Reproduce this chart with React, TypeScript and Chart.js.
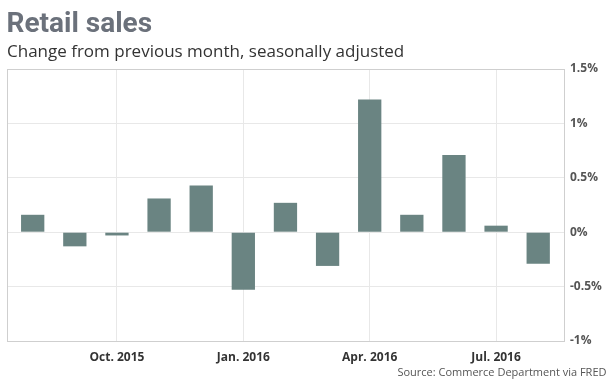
import React, { useEffect, useRef } from "react";
import { Chart, registerables } from "chart.js";

Chart.register(...registerables);

const months = [
  "Aug. 2015", "Sep. 2015", "Oct. 2015", "Nov. 2015", "Dec. 2015",
  "Jan. 2016", "Feb. 2016", "Mar. 2016", "Apr. 2016", "May 2016",
  "Jun. 2016", "Jul. 2016", "Aug. 2016",
];
const salesChange = [0.16, -0.13, -0.03, 0.31, 0.43, -0.53, 0.27, -0.31, 1.22, 0.16, 0.71, 0.06, -0.29];
const xTickLabels = ["Oct. 2015", "Jan. 2016", "Apr. 2016", "Jul. 2016"];
const yTickValues = [-1, -0.5, 0, 0.5, 1, 1.5];

const framePlugin = {
  id: "frame",
  afterDatasetsDraw(chart: any) {
    const { ctx, chartArea } = chart;
    ctx.save();
    ctx.strokeStyle = "#cfcfcf";
    ctx.lineWidth = 1;
    ctx.strokeRect(
      Math.round(chartArea.left) + 0.5,
      Math.round(chartArea.top) + 0.5,
      Math.round(chartArea.right - chartArea.left) - 1,
      Math.round(chartArea.bottom - chartArea.top)
    );
    ctx.restore();
  },
};

export default function App() {
  const canvasRef = useRef<HTMLCanvasElement | null>(null);

  useEffect(() => {
    if (!canvasRef.current) return;
    const tickIdx = xTickLabels.map((l) => months.indexOf(l));
    const chart = new Chart(canvasRef.current, {
      type: "bar",
      data: {
        datasets: [
          {
            data: salesChange.map((v, i) => ({ x: i, y: v })),
            backgroundColor: "#6a8482",
            borderWidth: 0,
            barPercentage: 0.553,
            categoryPercentage: 1,
          },
        ],
      },
      options: {
        animation: false,
        responsive: false,
        layout: { padding: { left: 7, top: 69, right: 0, bottom: 0 } },
        plugins: { legend: { display: false }, tooltip: { enabled: false } },
        scales: {
          x: {
            type: "linear",
            offset: false,
            min: -0.61,
            max: 12.636,
            afterBuildTicks: (scale: any) => {
              scale.ticks = tickIdx.map((v) => ({ value: v }));
            },
            afterFit: (scale: any) => {
              scale.height = 39;
            },
            grid: { color: "#e8e8e8", drawTicks: false, offset: false },
            border: { display: false },
            ticks: {
              autoSkip: false,
              maxRotation: 0,
              padding: 9,
              color: "#333333",
              font: { family: "'Open Sans'", size: 12, weight: "bold" },
              callback: (v: any) => months[Math.round(Number(v))],
            },
          },
          y: {
            position: "right",
            min: -1,
            max: 1.5,
            afterBuildTicks: (scale: any) => {
              scale.ticks = yTickValues.map((v) => ({ value: v }));
            },
            afterFit: (scale: any) => {
              scale.width = 48;
            },
            grid: { color: "#e8e8e8", drawTicks: false },
            border: { display: false },
            ticks: {
              padding: 5,
              color: "#555555",
              font: { family: "'Open Sans'", size: 12, weight: "bold" },
              callback: (v: any) => `${v}%`,
            },
          },
        },
      },
      plugins: [framePlugin],
    });
    return () => chart.destroy();
  }, []);

  return (
    <div style={{ position: "absolute", left: 0, top: 0, width: 613, height: 380, background: "#fff", overflow: "hidden" }}>
      <canvas ref={canvasRef} width={613} height={380} style={{ position: "absolute", left: 0, top: 0 }} />
      <div
        style={{
          position: "absolute", left: 6.5, top: 9.1, fontFamily: "Roboto", fontWeight: 700,
          fontSize: 28, lineHeight: "28px", color: "#6b717b", whiteSpace: "nowrap",
        }}
      >
        Retail sales
      </div>
      <div
        style={{
          position: "absolute", left: 7, top: 41.6, fontFamily: "'Open Sans'", fontSize: 17,
          lineHeight: "17px", color: "#333333", whiteSpace: "nowrap",
        }}
      >
        Change from previous month, seasonally adjusted
      </div>
      <div
        style={{
          position: "absolute", right: 6.5, top: 365.9, fontFamily: "'Open Sans'", fontSize: 11,
          lineHeight: "11px", color: "#555555", whiteSpace: "nowrap",
        }}
      >
        Source: Commerce Department via FRED
      </div>
    </div>
  );
}
